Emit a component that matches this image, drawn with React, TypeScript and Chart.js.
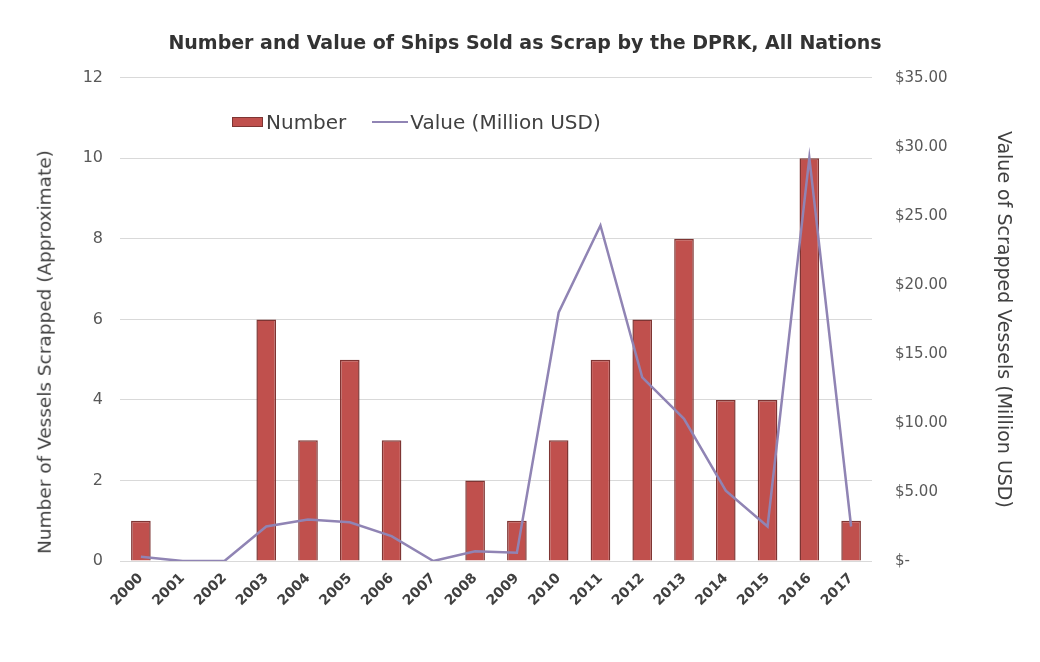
import React, { useEffect, useRef } from "react";
import { Chart, registerables } from "chart.js";

Chart.register(...registerables);

const years = ["2000","2001","2002","2003","2004","2005","2006","2007","2008","2009","2010","2011","2012","2013","2014","2015","2016","2017"];
const numberScrapped = [1,0,0,6,3,5,3,0,2,1,3,5,6,8,4,4,10,1];
const valueMillionUSD = [0.3,0,0,2.5,3.0,2.8,1.8,0,0.7,0.6,18.0,24.3,13.3,10.3,5.1,2.5,29.2,2.5];
const leftTicks = [0,2,4,6,8,10,12];
const rightTicks = [0,5,10,15,20,25,30,35];

const FONT = "'DejaVu Sans', 'Liberation Sans', sans-serif";

export default function App() {
  const ref = useRef<HTMLCanvasElement | null>(null);

  useEffect(() => {
    if (!ref.current) return;
    const chart = new Chart(ref.current, {
      type: "bar",
      data: {
        labels: years,
        datasets: [
          {
            type: "line",
            label: "Value (Million USD)",
            data: valueMillionUSD,
            yAxisID: "y1",
            borderColor: "#9084B4",
            borderWidth: 2.5,
            pointRadius: 0,
            tension: 0,
            order: 0,
          },
          {
            type: "bar",
            label: "Number",
            data: numberScrapped,
            yAxisID: "y",
            backgroundColor: "#C0504D",
            borderColor: "#7E3533",
            borderWidth: 1.5,
            barPercentage: 0.47,
            categoryPercentage: 1,
            order: 1,
          },
        ],
      },
      options: {
        responsive: false,
        animation: false,
        layout: { padding: { left: 32, right: 22, top: 0, bottom: 0 } },
        plugins: {
          legend: { display: false },
          tooltip: { enabled: false },
          title: {
            display: true,
            text: "Number and Value of Ships Sold as Scrap by the DPRK, All Nations",
            color: "#333333",
            font: { family: FONT, size: 19, weight: "bold" },
            padding: { top: 33, bottom: 22 },
          },
        },
        scales: {
          x: {
            grid: { display: false, drawTicks: false },
            border: { display: false },
            ticks: {
              color: "#404040",
              font: { family: FONT, size: 14, weight: "bold" },
              minRotation: 45,
              maxRotation: 45,
              padding: 9,
            },
            afterFit: (s: any) => { s.height = 101; },
          },
          y: {
            position: "left",
            min: 0,
            max: 12,
            afterBuildTicks: (s: any) => { s.ticks = leftTicks.map((v) => ({ value: v })); },
            ticks: {
              color: "#595959",
              font: { family: FONT, size: 16 },
              padding: 17,
            },
            grid: { color: "#D9D9D9", lineWidth: 1, drawTicks: false },
            border: { display: false },
            title: { display: false },
            afterFit: (s: any) => { s.width = 88; },
          },
          y1: {
            position: "right",
            min: 0,
            max: 35,
            afterBuildTicks: (s: any) => { s.ticks = rightTicks.map((v) => ({ value: v })); },
            ticks: {
              color: "#595959",
              font: { family: FONT, size: 15 },
              padding: 23,
              callback: (v: any) => (Number(v) === 0 ? "$-" : "$" + Number(v).toFixed(2)),
            },
            grid: { display: false, drawTicks: false },
            border: { display: false },
            title: {
              display: true,
              text: "Value of Scrapped Vessels (Million USD)",
              color: "#404040",
              font: { family: FONT, size: 19 },
              padding: { top: 4, bottom: 0 },
            },
            afterFit: (s: any) => { s.width = 146; },
          },
        },
      },
    });
    return () => chart.destroy();
  }, []);

  return (
    <div style={{ position: "fixed", left: 0, top: 0, width: 1040, height: 662, background: "#fff" }}>
      <canvas ref={ref} width={1040} height={662} style={{ display: "block" }} />
      <div
        style={{
          position: "absolute",
          left: 45,
          top: 352,
          transform: "translate(-50%, -50%) rotate(-90deg)",
          fontFamily: FONT,
          fontSize: 18.5,
          color: "#404040",
          whiteSpace: "nowrap",
          lineHeight: 1,
        }}
      >
        Number of Vessels Scrapped (Approximate)
      </div>
      <div
        style={{
          position: "absolute",
          left: 232,
          top: 110,
          display: "flex",
          alignItems: "center",
          fontFamily: FONT,
          fontSize: 20,
          color: "#404040",
          whiteSpace: "nowrap",
        }}
      >
        <span style={{ display: "inline-block", width: 31, height: 10, background: "#C0504D", border: "1px solid #7E3533", boxSizing: "border-box" }} />
        <span style={{ marginLeft: 3 }}>Number</span>
        <span style={{ display: "inline-block", width: 36, height: 2.5, background: "#9084B4", marginLeft: 26 }} />
        <span style={{ marginLeft: 2 }}>Value (Million USD)</span>
      </div>
    </div>
  );
}
